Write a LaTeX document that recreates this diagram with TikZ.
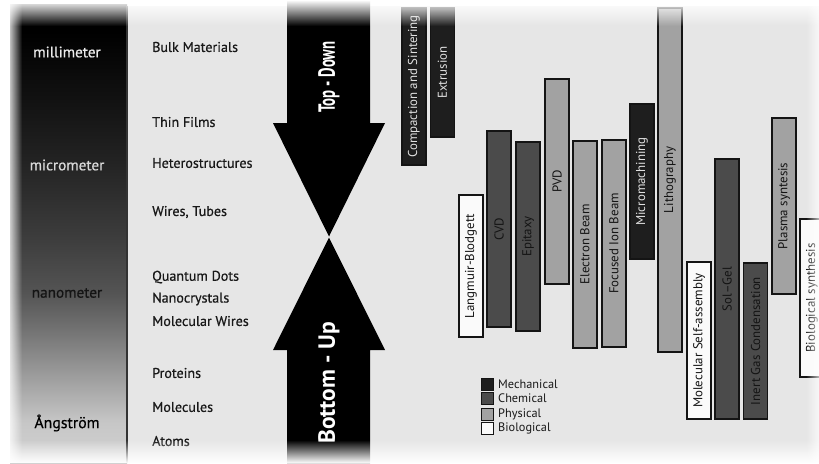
\documentclass[tikz,border=0pt]{standalone}
\usepackage{fontspec}
\setmainfont{PT Sans}
\newfontfamily\semib[FakeBold=0.6]{PT Sans}
\usepackage{graphicx}
\usetikzlibrary{fadings}
\definecolor{bgc}{HTML}{E6E6E6}
\definecolor{mech}{HTML}{1E1E1E}
\definecolor{chem}{HTML}{4B4B4B}
\definecolor{phys}{HTML}{A2A2A2}
\definecolor{bio}{HTML}{FAFAFA}
\definecolor{edge}{HTML}{141414}
\pgfdeclareverticalshading{colshade}{100bp}{color(0bp)=(black!18); color(25bp)=(black!18); color(29.4bp)=(black!22); color(34bp)=(black!37); color(39.5bp)=(black!55); color(43.5bp)=(black!67); color(49.4bp)=(black!76); color(57.5bp)=(black!86); color(64.5bp)=(black!93); color(72bp)=(black); color(100bp)=(black)}
\tikzfading[name=fadetop, top color=transparent!0, bottom color=transparent!100]
\tikzfading[name=fadebot, top color=transparent!100, bottom color=transparent!0]
\tikzfading[name=faderight, left color=transparent!100, right color=transparent!30]
\tikzfading[name=fadeleft, left color=transparent!0, right color=transparent!100]
\begin{document}
\begin{tikzpicture}[x=0.03cm,y=-0.03cm,
  techbar/.style={draw=edge, line width=0.9pt, rotate=90, minimum height=0.72cm, inner sep=0pt, font=\fontsize{11}{13}\selectfont, text=black!92},
  mbar/.style={techbar, fill=mech, text=white!88!black},
  cbar/.style={techbar, fill=chem},
  pbar/.style={techbar, fill=phys},
  bbar/.style={techbar, fill=bio},
  midlabel/.style={anchor=west, inner sep=0pt, font=\semib\fontsize{12}{14}\selectfont, text=black!90},
  scalelabel/.style={font=\semib\fontsize{13}{15}\selectfont},
  legbox/.style={draw=edge, line width=0.8pt, minimum size=0.36cm, inner sep=0pt},
  legtext/.style={anchor=west, inner sep=0pt, font=\fontsize{10.5}{12}\selectfont, text=black!90},
  arrowtext/.style={text=white, font=\bfseries\fontsize{20}{24}\selectfont, rotate=90}
]
\useasboundingbox (0,0) rectangle (819,463);
\clip (0,0) rectangle (819,463);
\fill[white] (0,0) rectangle (819,463);
\fill[bgc] (127,6) rectangle (819,463);
\shade[shading=colshade] (10,4) rectangle (127,463);
\draw[black!80, line width=1pt] (127,6) -- (127,463);
% arrows
\fill[black] (287,0) -- (370,0) -- (370,123) -- (385,123) -- (329,236.5) -- (273,123) -- (287,123) -- cycle;
\fill[black] (287,463) -- (370,463) -- (370,350) -- (385,350) -- (329,237.5) -- (273,350) -- (287,350) -- cycle;
\node[arrowtext] (td) at (329,77) {\scalebox{0.63}[1]{Top - Down}};
\node[arrowtext] (bu) at (329,383) {Bottom - Up};
% scale labels
\node[scalelabel, text=white!92!black] (mm) at (67,52) {millimeter};
\node[scalelabel, text=white!85!black] (um) at (67,165) {micrometer};
\node[scalelabel, text=black!92] (nm) at (67,293) {nanometer};
\node[scalelabel, text=black, font=\semib\fontsize{13.5}{15}\selectfont] (ang) at (67,423) {Ångström};
% middle labels
\node[midlabel] (bulk) at (152,47) {Bulk Materials};
\node[midlabel] (thin) at (152,122) {Thin Films};
\node[midlabel] (hetero) at (152,163) {Heterostructures};
\node[midlabel] (wires) at (152,212) {Wires, Tubes};
\node[midlabel] (qd) at (152,277) {Quantum Dots};
\node[midlabel] (nc) at (152,299) {Nanocrystals};
\node[midlabel] (mw) at (152,321) {Molecular Wires};
\node[midlabel] (prot) at (152,373) {Proteins};
\node[midlabel] (mol) at (152,407) {Molecules};
\node[midlabel] (atoms) at (152,441) {Atoms};
% technique bars
\node[mbar, minimum width=4.71cm] (comp) at (414,86.5) {Compaction and Sintering};
\node[mbar, minimum width=3.87cm] (extr) at (442.5,72.5) {Extrusion};
\node[bbar, minimum width=4.26cm] (lb) at (471,266) {Langmuir-Blodgett};
\node[cbar, minimum width=5.88cm] (cvd) at (499,229) {CVD};
\node[cbar, minimum width=5.67cm] (epi) at (528,236.5) {Epitaxy};
\node[pbar, minimum width=6.15cm] (pvd) at (557,181.5) {PVD};
\node[pbar, minimum width=6.21cm] (eb) at (585,244.5) {Electron Beam};
\node[pbar, minimum width=6.21cm] (fib) at (614,243.5) {Focused Ion Beam};
\node[mbar, minimum width=4.65cm] (micro) at (642,181.5) {Micromachining};
\node[pbar, minimum width=10.32cm] (litho) at (670,180) {Lithography};
\node[bbar, minimum width=4.71cm] (msa) at (699,340.5) {Molecular Self-assembly};
\node[cbar, minimum width=7.8cm] (sg) at (727,289) {Sol–Gel};
\node[cbar, minimum width=4.68cm] (igc) at (755.5,341) {Inert Gas Condensation};
\node[pbar, minimum width=5.28cm] (plasma) at (784,206) {Plasma syntesis};
\node[bbar, minimum width=4.74cm] (bios) at (812,298) {Biological synthesis};
% legend
\node[legbox, fill=mech] (lm) at (487,384) {};
\node[legbox, fill=chem] (lc) at (487,398.5) {};
\node[legbox, fill=phys] (lp) at (487,414) {};
\node[legbox, fill=bio] (lbio) at (487,428.5) {};
\node[legtext] (tm) at (498,384) {Mechanical};
\node[legtext] (tc) at (498,398.5) {Chemical};
\node[legtext] (tp) at (498,414) {Physical};
\node[legtext] (tb) at (498,428.5) {Biological};
% fades
\fill[white, path fading=fadetop] (0,0) rectangle (819,26);
\fill[white, path fading=fadebot] (0,440) rectangle (819,463);
\fill[white, path fading=faderight] (806,0) rectangle (819,463);
\fill[white, path fading=fadeleft] (6,0) rectangle (22,463);
\end{tikzpicture}
\end{document}
